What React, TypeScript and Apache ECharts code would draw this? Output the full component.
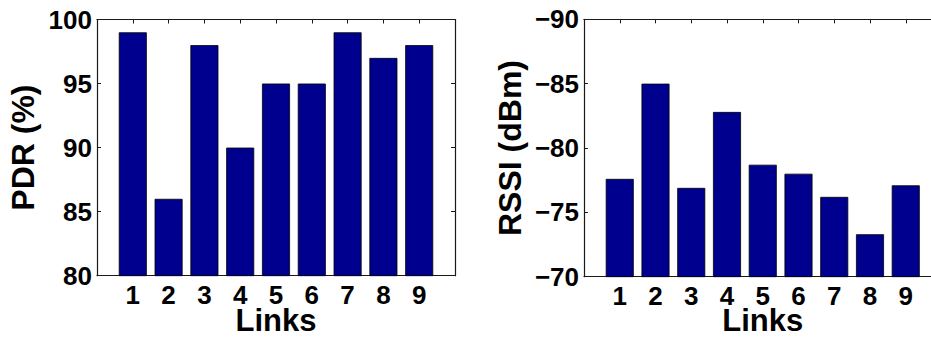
import React, { useEffect, useRef } from "react";
import * as echarts from "echarts";

const links = [1, 2, 3, 4, 5, 6, 7, 8, 9];
const pdrValues = [99, 86, 98, 90, 95, 95, 99, 97, 98];
const rssiValues = [-77.6, -85.0, -76.9, -82.8, -78.7, -78.0, -76.2, -73.3, -77.1];
const pdrTicks = [80, 85, 90, 95, 100];
const rssiTicks = [-90, -85, -80, -75, -70];

const FONT = "'Liberation Sans', Arial, Helvetica, sans-serif";
const AX = "#1a1a1a";
const BAR = "#00008F";

export default function App() {
  const ref = useRef<HTMLDivElement>(null);
  useEffect(() => {
    if (!ref.current) return;
    const chart = echarts.init(ref.current, undefined, { renderer: "svg" });
    const grids = [
      { left: 97, top: 19.5, width: 358, height: 256.2 },
      { left: 584, top: 19.3, width: 357.5, height: 257.4 },
    ];
    const xNameGaps = [32, 31];
    const label = { fontFamily: FONT, fontWeight: "bold" as const, fontSize: 26, color: "#000" };
    const nameStyle = { fontFamily: FONT, fontWeight: "bold" as const, fontSize: 32, color: "#000" };
    const tick = { show: true, inside: true, length: 4, lineStyle: { color: AX, width: 1 } };
    const line = { show: true, onZero: false, lineStyle: { color: AX, width: 1.2 } };

    const xAxes: any[] = [];
    const yAxes: any[] = [];
    [0, 1].forEach((g) => {
      xAxes.push({
        type: "value", gridIndex: g, min: 0, max: 10, interval: 1, position: "bottom",
        name: "Links", nameLocation: "middle", nameGap: xNameGaps[g], nameMoveOverlap: false,
        nameTextStyle: { ...nameStyle, fontSize: 31, lineHeight: 26 },
        axisLine: line, axisTick: tick, splitLine: { show: false },
        axisLabel: {
          ...label, margin: 9, lineHeight: 20,
          formatter: (v: number) => (links.includes(v) ? String(v) : ""),
        },
      });
      xAxes.push({
        type: "value", gridIndex: g, min: 0, max: 10, interval: 1, position: "top",
        axisLine: line, axisTick: tick, splitLine: { show: false }, axisLabel: { show: false },
      });
    });
    const yDefs = [
      { ticks: pdrTicks, name: "PDR (%)", inverse: false },
      { ticks: rssiTicks, name: "RSSI (dBm)", inverse: true },
    ];
    yDefs.forEach((d, g) => {
      yAxes.push({
        type: "value", gridIndex: g, min: d.ticks[0], max: d.ticks[d.ticks.length - 1],
        interval: 5, inverse: d.inverse, position: "left",
        name: d.name, nameLocation: "middle", nameGap: 58, nameRotate: 90, nameMoveOverlap: false,
        nameTextStyle: nameStyle,
        axisLine: line, axisTick: tick, splitLine: { show: false },
        axisLabel: { ...label, margin: 5, formatter: (v: number) => String(v).replace("-", "\u2212") },
      });
      yAxes.push({
        type: "value", gridIndex: g, min: d.ticks[0], max: d.ticks[d.ticks.length - 1],
        interval: 5, inverse: d.inverse, position: "right",
        axisLine: line, axisTick: tick, splitLine: { show: false }, axisLabel: { show: false },
      });
    });

    const mkSeries = (vals: number[], g: number) => ({
      type: "bar",
      xAxisIndex: g * 2,
      yAxisIndex: g * 2,
      barWidth: 28,
      clip: true,
      data: links.map((l, i) => [l, vals[i]]),
      itemStyle: { color: BAR, borderColor: "#000", borderWidth: 0.8 },
      z: 2,
    });

    chart.setOption({
      animation: false,
      backgroundColor: "#fff",
      grid: grids.map((gr) => ({ ...gr, containLabel: false, outerBoundsMode: "none" })),
      xAxis: xAxes,
      yAxis: yAxes,
      series: [mkSeries(pdrValues, 0), mkSeries(rssiValues, 1)],
    });
    return () => chart.dispose();
  }, []);
  return (
    <div
      ref={ref}
      style={{ position: "fixed", left: 0, top: 0, width: 931, height: 338, background: "#fff" }}
    />
  );
}
